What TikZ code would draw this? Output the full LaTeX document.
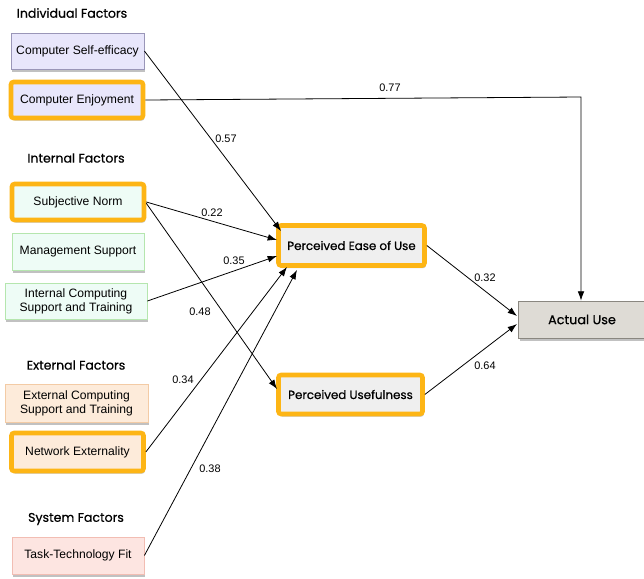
\documentclass[tikz,border=0pt]{standalone}
\usepackage{fontspec}
\setmainfont{Liberation Sans}
\newfontfamily\headfont[FakeBold=0.6]{Poppins}
\usetikzlibrary{shadows,arrows.meta}
\definecolor{orng}{HTML}{FDB515}
\definecolor{indfill}{HTML}{E8E6FB}
\definecolor{inddraw}{HTML}{9A96B8}
\definecolor{intfill}{HTML}{EEFCF6}
\definecolor{intdraw}{HTML}{B5E6AE}
\definecolor{extfill}{HTML}{FDEBDA}
\definecolor{extdraw}{HTML}{F3CBA5}
\definecolor{sysfill}{HTML}{FDE5E1}
\definecolor{sysdraw}{HTML}{F2BDB3}
\definecolor{pfill}{HTML}{EFEFEF}
\definecolor{aufill}{HTML}{DEDBD5}
\definecolor{audraw}{HTML}{8A8780}
\tikzset{
  x=0.75pt,y=-0.75pt,
  shad/.style={drop shadow={shadow xshift=1pt,shadow yshift=-2pt,opacity=0.35,fill=black!70}},
  fbox/.style={shad,rectangle,line width=0.6pt,align=center,font=\fontsize{9.1}{10.5}\selectfont,inner sep=0pt},
  hl/.style={draw=orng,line width=3.5pt,rounded corners=2pt},
  hdr/.style={font=\headfont\fontsize{9.4}{11}\selectfont},
  lbl/.style={font=\fontsize{8.2}{10}\selectfont},
  arr/.style={-{Latex[length=7pt,width=5pt]},line width=0.6pt},
  big/.style={shad,rectangle,font=\headfont\fontsize{8.9}{11}\selectfont,inner sep=0pt}
}
\begin{document}
\begin{tikzpicture}
\useasboundingbox (0,0) rectangle (644,579);
% headers
\node[hdr] (h1) at (72,13) {Individual Factors};
\node[hdr] (h2) at (76,158) {Internal Factors};
\node[hdr] (h3) at (76,365) {External Factors};
\node[hdr] (h4) at (76,519) {System Factors};
% factor boxes
\node[fbox,draw=inddraw,fill=indfill,minimum width=99.75pt,minimum height=27pt] (cse) at (77.5,51) {Computer Self-efficacy};
\node[fbox,hl,fill=indfill,minimum width=99pt,minimum height=27pt] (ce) at (77,100) {Computer Enjoyment};
\node[fbox,hl,fill=intfill,minimum width=99pt,minimum height=27pt] (sn) at (78,202) {Subjective Norm};
\node[fbox,draw=intdraw,fill=intfill,minimum width=99pt,minimum height=27.75pt] (ms) at (78,251.5) {Management Support};
\node[fbox,draw=intdraw,fill=intfill,minimum width=106.5pt,minimum height=27pt] (ics) at (76,301) {Internal Computing\\Support and Training};
\node[fbox,draw=extdraw,fill=extfill,minimum width=107.25pt,minimum height=28.5pt] (ecs) at (76.5,403) {External Computing\\Support and Training};
\node[fbox,hl,fill=extfill,minimum width=99pt,minimum height=28.5pt] (ne) at (77.5,452) {Network Externality};
\node[fbox,draw=sysdraw,fill=sysfill,minimum width=99pt,minimum height=27.75pt] (ttf) at (78,555.5) {Task-Technology Fit};
% constructs
\node[big,hl,fill=pfill,minimum width=109.5pt,minimum height=30pt] (peou) at (351.5,245.5) {Perceived Ease of Use};
\node[big,hl,fill=pfill,minimum width=108pt,minimum height=29.25pt] (pu) at (350.5,394.5) {Perceived Usefulness};
\node[big,draw=audraw,line width=0.6pt,fill=aufill,minimum width=95.25pt,minimum height=27.75pt,font=\headfont\fontsize{9.6}{12}\selectfont] (au) at (582,319.5) {Actual Use};
% connectors
\coordinate (t1) at (281,231);
\coordinate (t2) at (277,240);
\coordinate (t3) at (277,256);
\coordinate (t4) at (287,267);
\coordinate (t5) at (297,270);
\coordinate (t6) at (277,389);
\coordinate (b1) at (581,97);
\coordinate (a1) at (517,316);
\coordinate (a2) at (517,324);
\draw[arr] (cse.east) -- (t1);
\draw[arr] (ce.east) -- (b1) -- (au.north -| b1);
\draw[arr] (sn.east) -- (t2);
\draw[arr] ([yshift=-1pt]sn.east) -- (t6);
\draw[arr] (ics.east) -- (t3);
\draw[arr] (ne.east) -- (t4);
\draw[arr] (ttf.east) -- (t5);
\draw[arr] (peou.east) -- (a1);
\draw[arr] (pu.east) -- (a2);
% labels
\node[lbl] (l057) at (226,139) {0.57};
\node[lbl] (l077) at (390,88) {0.77};
\node[lbl] (l022) at (212,213) {0.22};
\node[lbl] (l035) at (234,261) {0.35};
\node[lbl] (l048) at (200,312) {0.48};
\node[lbl] (l034) at (183,380) {0.34};
\node[lbl] (l038) at (210,469) {0.38};
\node[lbl] (l032) at (485,278) {0.32};
\node[lbl] (l064) at (485,366) {0.64};
\end{tikzpicture}
\end{document}
